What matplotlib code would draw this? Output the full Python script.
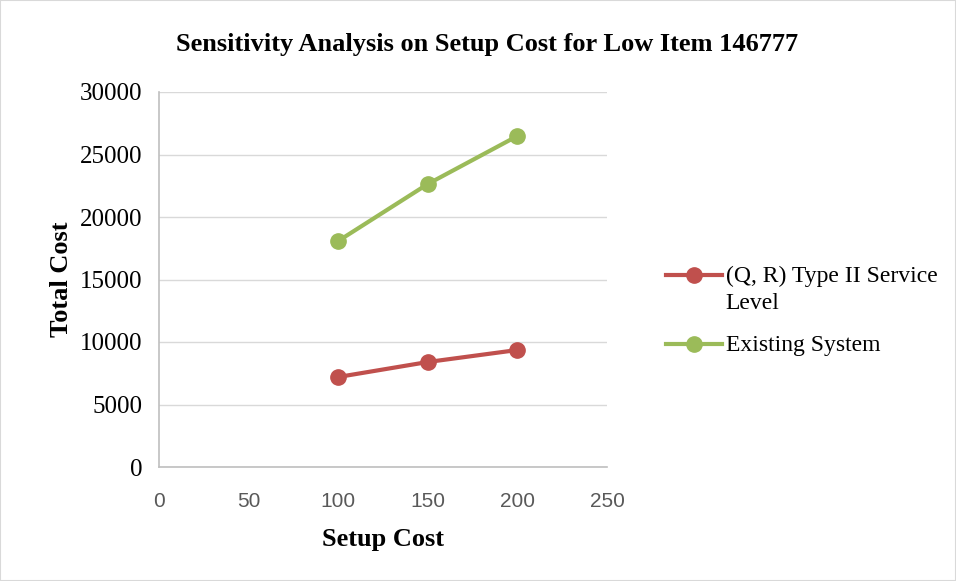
import matplotlib
matplotlib.use("Agg")
import matplotlib.pyplot as plt
from matplotlib.lines import Line2D

setup_cost = [100, 150, 200]
qr_type2 = [7200, 8400, 9360]
existing = [18080, 22640, 26480]
x_ticks = [0, 50, 100, 150, 200, 250]
y_ticks = [0, 5000, 10000, 15000, 20000, 25000, 30000]

red = "#c0504d"
green = "#9bbb59"
grid_c = "#d9d9d9"
axis_c = "#bfbfbf"

fig = plt.figure(figsize=(9.56, 5.81), dpi=100)
ax = fig.add_axes([159/956, 1 - 467/581, 448/956, 375/581])

ax.plot(setup_cost, qr_type2, color=red, lw=3, marker="o", ms=11, zorder=3)
ax.plot(setup_cost, existing, color=green, lw=3, marker="o", ms=11, zorder=3)

ax.set_xlim(0, 250)
ax.set_ylim(0, 30000)
ax.set_xticks(x_ticks)
ax.set_yticks(y_ticks)
ax.set_yticklabels([str(v) for v in y_ticks], family="Liberation Serif", fontsize=18)
ax.set_xticklabels([str(v) for v in x_ticks], family="Liberation Sans", fontsize=15, color="#595959")
ax.tick_params(axis="both", length=0)
ax.tick_params(axis="x", pad=18)
ax.tick_params(axis="y", pad=12)

ax.grid(axis="y", color=grid_c, lw=1)
ax.set_axisbelow(True)
for s in ("top", "right"):
    ax.spines[s].set_visible(False)
for s in ("left", "bottom"):
    ax.spines[s].set_color(axis_c)
    ax.spines[s].set_linewidth(1.2)

ax.set_xlabel("Setup Cost", family="Liberation Serif", fontweight="bold", fontsize=19, labelpad=12)
ax.set_ylabel("Total Cost", family="Liberation Serif", fontweight="bold", fontsize=19, labelpad=5)
fig.text(487/956, 1 - 45/581, "Sensitivity Analysis on Setup Cost for Low Item 146777",
         ha="center", va="center", family="Liberation Serif", fontweight="bold", fontsize=19)

handles = [Line2D([], [], color=red, lw=3, marker="o", ms=11),
           Line2D([], [], color=green, lw=3, marker="o", ms=11)]
labels = ["(Q, R) Type II Service\nLevel", "Existing System"]
leg = fig.legend(handles, labels, loc="upper left", bbox_to_anchor=(645/956, 1 - 245/581),
                 frameon=False, prop={"family": "Liberation Serif", "size": 17},
                 handlelength=2.35, handletextpad=0.17, labelspacing=0.9)
for txt in leg.get_texts():
    txt.set_linespacing(1.35)
# put each legend key level with the first line of its label
for column in leg._legend_handle_box.get_children():
    for item in column.get_children():
        item.align = "top"

fig.add_artist(plt.Rectangle((0, 0), 1, 1, transform=fig.transFigure, fill=False,
                             edgecolor="#d9d9d9", lw=1.5))

fig.savefig("out.png", dpi=100)
